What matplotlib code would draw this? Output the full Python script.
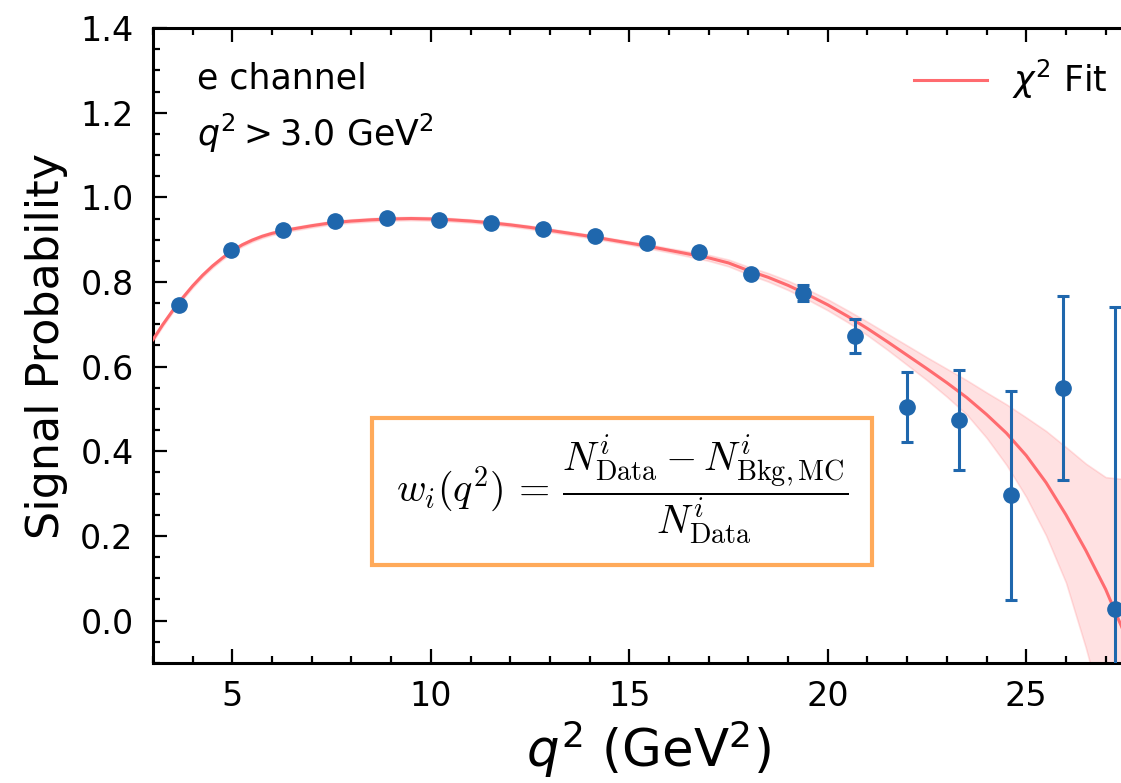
import numpy as np
import matplotlib
matplotlib.use('Agg')
import matplotlib.pyplot as plt
from matplotlib.patches import Rectangle
from matplotlib.ticker import MultipleLocator

# measured signal probability per q2 bin
q2_bins = [3.66, 4.97, 6.28, 7.59, 8.90, 10.21, 11.52, 12.83, 14.14, 15.45,
           16.76, 18.07, 19.38, 20.69, 22.00, 23.31, 24.62, 25.93, 27.24]
sig_prob = [0.745, 0.876, 0.923, 0.943, 0.951, 0.947, 0.939, 0.926, 0.909, 0.891,
            0.871, 0.820, 0.774, 0.673, 0.504, 0.474, 0.296, 0.550, 0.028]
sig_err = [0.004, 0.003, 0.003, 0.003, 0.003, 0.003, 0.003, 0.004, 0.004, 0.005,
           0.006, 0.009, 0.020, 0.040, 0.083, 0.118, 0.247, 0.217, 0.713]

# chi2 fit curve and its uncertainty band
fit_x = [3.0, 3.25, 3.5, 3.75, 4.0, 4.25, 4.5, 4.75, 5.0, 5.25,
         5.5, 5.75, 6.0, 6.25, 6.5, 7.0, 7.5,
         8.0, 8.5, 9.0, 9.5, 10.0, 10.5, 11.0, 11.5, 12.0, 12.5,
         13.0, 13.5, 14.0, 14.5, 15.0, 15.5, 16.0, 16.5, 17.0, 17.5,
         18.0, 18.5, 19.0, 19.5, 20.0, 20.5, 21.0, 21.5, 22.0, 22.5,
         23.0, 23.5, 24.0, 24.5, 25.0, 25.5, 26.0, 26.5, 27.0, 27.5]
fit_y = [0.664, 0.700, 0.733, 0.763, 0.791, 0.816, 0.838, 0.857, 0.874, 0.888,
         0.899, 0.908, 0.915, 0.920, 0.925, 0.933, 0.940,
         0.944, 0.947, 0.949, 0.950, 0.949, 0.947, 0.944, 0.940, 0.935, 0.929,
         0.922, 0.915, 0.908, 0.900, 0.892, 0.884, 0.875, 0.866, 0.857, 0.845,
         0.827, 0.811, 0.792, 0.770, 0.746, 0.719, 0.690, 0.659, 0.627, 0.595,
         0.562, 0.527, 0.487, 0.443, 0.390, 0.326, 0.250, 0.166, 0.074, -0.036]
fit_up = [0.004] * 32 + [0.005, 0.005, 0.006, 0.007, 0.008,
          0.009, 0.010, 0.011, 0.012, 0.013, 0.014, 0.016, 0.019, 0.023, 0.027,
          0.033, 0.041, 0.052, 0.068, 0.090, 0.122, 0.160, 0.205, 0.265, 0.370]
fit_dn = [0.004] * 32 + [0.005, 0.005, 0.006, 0.007, 0.008,
          0.009, 0.010, 0.011, 0.012, 0.013, 0.014, 0.016, 0.019, 0.023, 0.027,
          0.033, 0.040, 0.055, 0.075, 0.098, 0.125, 0.160, 0.230, 0.310, 0.400]

fit_color = '#ff6b6f'
pt_color = '#1f67ad'

fig = plt.figure(figsize=(11.21, 7.83), dpi=100)
# axes runs a little past the right edge of the picture, like the cropped original
ax = fig.add_axes([0.1365, 0.1533, 0.8831, 0.8109])

lo = np.array(fit_y) - np.array(fit_dn)
hi = np.array(fit_y) + np.array(fit_up)
ax.fill_between(fit_x, lo, hi, color=fit_color, alpha=0.2, lw=1.2)
ax.plot(fit_x, fit_y, color=fit_color, lw=2.2, label=r'$\chi^2$ Fit', zorder=3)

ax.errorbar(q2_bins, sig_prob, yerr=sig_err, fmt='o', color=pt_color, ms=11,
            elinewidth=2.2, capsize=4, capthick=2.2, zorder=4)

ax.set_xlim(3, 27.94)
ax.set_ylim(-0.1, 1.4)
ax.xaxis.set_major_locator(MultipleLocator(5))
ax.xaxis.set_minor_locator(MultipleLocator(1))
ax.yaxis.set_major_locator(MultipleLocator(0.2))
ax.yaxis.set_minor_locator(MultipleLocator(0.05))
ax.tick_params(which='both', direction='in', top=True, right=False, width=1.6,
               labelsize=24)
ax.tick_params(which='major', length=10)
ax.tick_params(which='minor', length=5)
ax.tick_params(axis='x', which='major', pad=12)
ax.tick_params(axis='y', which='major', pad=14)
for s in ax.spines.values():
    s.set_linewidth(2.2)

ax.set_xlabel(r'$q^2$ (GeV$^2$)', fontsize=37, labelpad=4)
ax.set_ylabel('Signal Probability', fontsize=32, labelpad=9)

ax.text(0.0444, 0.948, 'e channel', transform=ax.transAxes, fontsize=25, va='top')
ax.text(0.0444, 0.868, r'$q^2 > 3.0$ GeV$^2$', transform=ax.transAxes,
        fontsize=25, va='top')

# formula box
ax.add_patch(Rectangle((0.2212, 0.1543), 0.5051, 0.2315, transform=ax.transAxes,
                       fc='white', ec='#ffaa5a', lw=3, zorder=5))
ax.text(0.4737, 0.272,
        r'$w_i(q^2)\,=\,\dfrac{N^i_{\mathrm{Data}} - N^i_{\mathrm{Bkg,MC}}}{N^i_{\mathrm{Data}}}$',
        transform=ax.transAxes, fontsize=29, ha='center', va='center',
        math_fontfamily='cm', zorder=6)

ax.legend(loc='upper right', bbox_to_anchor=(0.978, 0.975), borderaxespad=0,
          frameon=False, fontsize=25, handlelength=2.1, handletextpad=0.7)

fig.savefig('out.png', dpi=100)
